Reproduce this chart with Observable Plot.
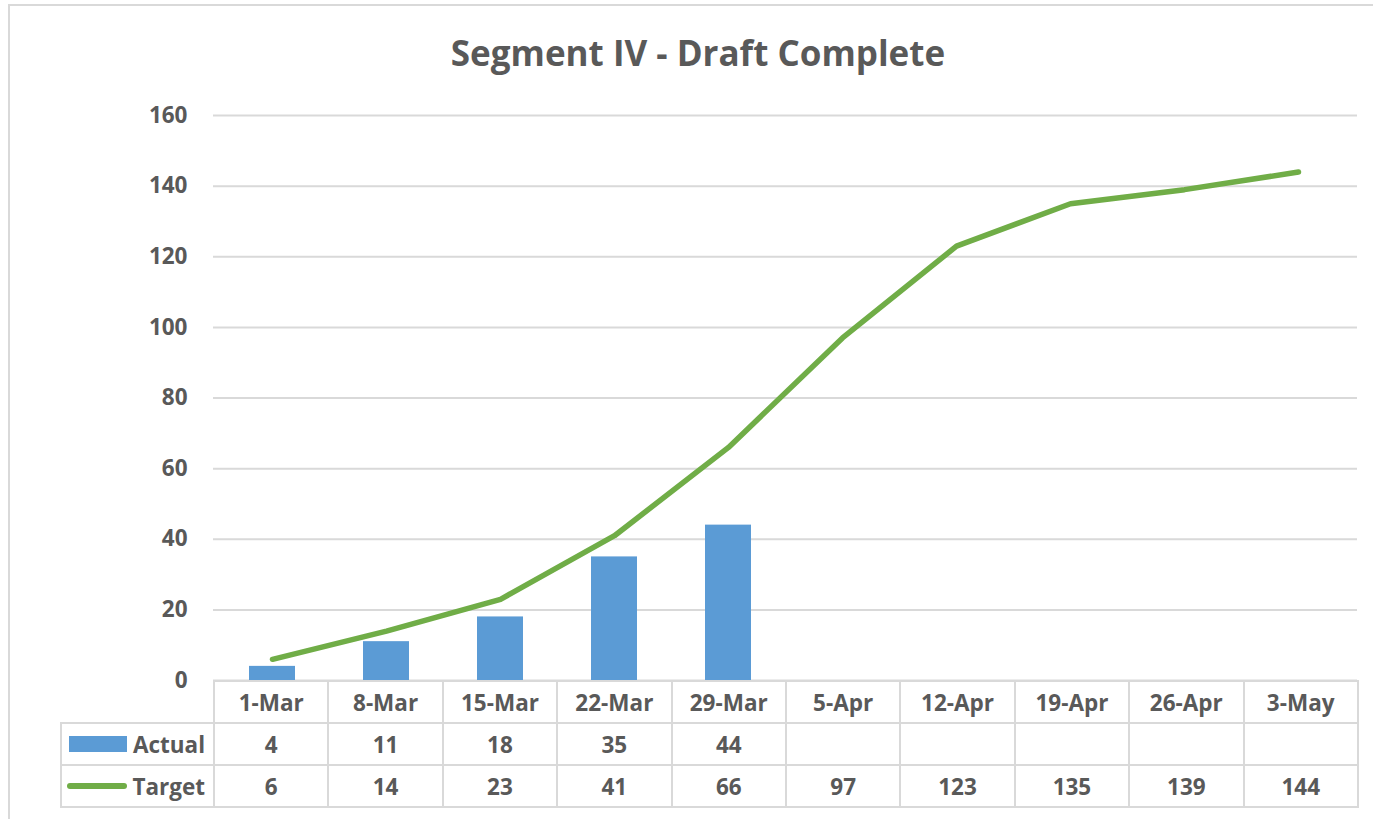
<!DOCTYPE html>
<html>
<head>
<meta charset="utf-8">
<script src="https://cdn.jsdelivr.net/npm/d3@7"></script>
<script src="https://cdn.jsdelivr.net/npm/@observablehq/plot@0.6"></script>
<style>
  html, body { margin: 0; padding: 0; background: #fff; }
  #wrap { position: relative; width: 1373px; height: 819px; overflow: hidden; font-family: "Open Sans", Lato, sans-serif; color: #595959; }
  #frame { position: absolute; left: 8px; top: 4px; width: 1400px; height: 900px; border-left: 2px solid #d9d9d9; border-top: 2px solid #d9d9d9; box-sizing: border-box; }
  #title { position: absolute; left: 0; width: 1396px; top: 29px; text-align: center; font-size: 35px; font-weight: 700; }
  #chart { position: absolute; left: 0; top: 0; }
  #tbl { position: absolute; left: 60px; top: 680px; border-collapse: collapse; table-layout: fixed; font-size: 22.5px; font-weight: 700; }
  #tbl tr { height: 42px; }
  #tbl td { border: 2px solid #d9d9d9; height: 42px; padding: 0; text-align: center; vertical-align: middle; white-space: nowrap; box-sizing: border-box; }
  #tbl td.blank { border: none; border-right: 2px solid #d9d9d9; }
  .lg { display: flex; align-items: center; justify-content: flex-end; padding-right: 8px; }
  .sw-bar { display: inline-block; width: 58px; height: 16px; background: #5b9bd5; margin-right: 6px; }
  .sw-line { display: inline-block; width: 60px; height: 6px; border-radius: 3px; background: #70ad47; margin-right: 5px; }
</style>
</head>
<body>
<div id="wrap">
  <div id="frame"></div>
  <div id="chart"></div>
  <div id="title">Segment IV - Draft Complete</div>
  <table id="tbl"></table>
</div>
<script>
const categories = ["1-Mar","8-Mar","15-Mar","22-Mar","29-Mar","5-Apr","12-Apr","19-Apr","26-Apr","3-May"];
const actual = [4, 11, 18, 35, 44, null, null, null, null, null];
const target = [6, 14, 23, 41, 66, 97, 123, 135, 139, 144];
const yTicks = [0, 20, 40, 60, 80, 100, 120, 140, 160];

const barData = categories.map((c, i) => ({cat: c, v: actual[i]})).filter(d => d.v != null);
const lineData = categories.map((c, i) => ({cat: c, v: target[i]}));

const chart = Plot.plot({
  width: 1373,
  height: 819,
  marginLeft: 213,
  marginRight: 16,
  marginTop: 115,
  marginBottom: 139,
  style: {fontFamily: '"Open Sans", Lato, sans-serif', fontSize: "22px", fontWeight: 700, color: "#595959", background: "transparent"},
  x: {domain: categories, paddingInner: 0.6, paddingOuter: 0.3, axis: null},
  y: {domain: [0, 160], ticks: yTicks, tickSize: 0, tickPadding: 26, label: null},
  marks: [
    Plot.gridY(yTicks, {stroke: "#d9d9d9", strokeOpacity: 1, strokeWidth: 2}),
    Plot.axisY(yTicks, {tickSize: 0, tickPadding: 26, fill: "#595959", fontWeight: 700, fontSize: 22.5, label: null}),
    Plot.barY(barData, {x: "cat", y: "v", fill: "#5b9bd5"}),
    Plot.line(lineData, {x: "cat", y: "v", stroke: "#70ad47", strokeWidth: 5.5, strokeLinecap: "round", strokeLinejoin: "round"})
  ]
});
document.getElementById("chart").appendChild(chart);

// data table
const tbl = document.getElementById("tbl");
const colg = document.createElement("colgroup");
const c0 = document.createElement("col"); c0.style.width = "153px"; colg.appendChild(c0);
categories.forEach(() => { const c = document.createElement("col"); c.style.width = "114.4px"; colg.appendChild(c); });
tbl.appendChild(colg);
function row(label, values) {
  const tr = document.createElement("tr");
  const th = document.createElement("td");
  if (label === null) { th.className = "blank"; }
  else { th.innerHTML = label; }
  tr.appendChild(th);
  values.forEach(v => { const td = document.createElement("td"); td.textContent = v == null ? "" : v; tr.appendChild(td); });
  tbl.appendChild(tr);
}
row(null, categories);
row('<div class="lg"><span class="sw-bar"></span>Actual</div>', actual);
row('<div class="lg"><span class="sw-line"></span>Target</div>', target);
</script>
</body>
</html>
